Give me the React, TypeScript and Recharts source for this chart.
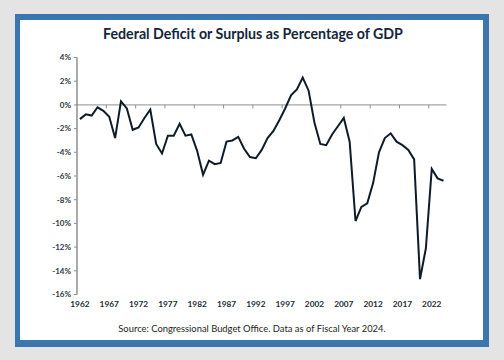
import React from "react";
import { LineChart, Line, XAxis, YAxis, ReferenceLine } from "recharts";

const years: number[] = [
  1962, 1963, 1964, 1965, 1966, 1967, 1968, 1969, 1970, 1971, 1972, 1973, 1974, 1975, 1976, 1977,
  1978, 1979, 1980, 1981, 1982, 1983, 1984, 1985, 1986, 1987, 1988, 1989, 1990, 1991, 1992, 1993,
  1994, 1995, 1996, 1997, 1998, 1999, 2000, 2001, 2002, 2003, 2004, 2005, 2006, 2007, 2008, 2009,
  2010, 2011, 2012, 2013, 2014, 2015, 2016, 2017, 2018, 2019, 2020, 2021, 2022, 2023, 2024,
];

const deficitPct: number[] = [
  -1.2, -0.8, -0.9, -0.2, -0.5, -1.0, -2.8, 0.3, -0.3, -2.1, -1.9, -1.1, -0.4, -3.3, -4.1, -2.6,
  -2.6, -1.6, -2.6, -2.5, -3.9, -5.9, -4.7, -5.0, -4.9, -3.1, -3.0, -2.7, -3.7, -4.4, -4.5, -3.8,
  -2.8, -2.2, -1.3, -0.3, 0.8, 1.3, 2.3, 1.2, -1.5, -3.3, -3.4, -2.5, -1.8, -1.1, -3.1, -9.8,
  -8.6, -8.3, -6.6, -4.0, -2.8, -2.4, -3.1, -3.4, -3.8, -4.6, -14.7, -12.1, -5.4, -6.2, -6.4,
];

const xTickYears: number[] = [1962, 1967, 1972, 1977, 1982, 1987, 1992, 1997, 2002, 2007, 2012, 2017, 2022];
const yTicks: number[] = [-16, -14, -12, -10, -8, -6, -4, -2, 0, 2, 4];

const title = "Federal Deficit or Surplus as Percentage of GDP";
const source = "Source: Congressional Budget Office. Data as of Fiscal Year 2024.";

const data = years.map((year, i) => ({ year, value: deficitPct[i] }));
const zeroTickPositions = xTickYears.slice(1).map((y) => y - 0.5);

const FONT = "Lato, 'Open Sans', sans-serif";

export default function App() {
  return (
    <div
      style={{
        position: "absolute",
        left: 0,
        top: 0,
        width: 504,
        height: 360,
        background: "#e4e4e4",
        fontFamily: FONT,
      }}
    >
      <div
        style={{
          position: "absolute",
          left: 15,
          top: 14,
          width: 474,
          height: 333,
          boxSizing: "border-box",
          borderStyle: "solid",
          borderColor: "#3b76ae",
          borderWidth: "6px 6px 7px 5px",
          background: "#ffffff",
        }}
      />
      <div
        style={{
          position: "absolute",
          left: 0,
          width: 506,
          top: 25,
          textAlign: "center",
          fontSize: 14.2,
          fontWeight: 700,
          color: "#14263a",
          lineHeight: "18px",
        }}
      >
        {title}
      </div>
      <div
        style={{
          position: "absolute",
          left: 0,
          width: 504,
          top: 322,
          textAlign: "center",
          fontSize: 9.4,
          color: "#1e1e1e",
          lineHeight: "14px",
        }}
      >
        {source}
      </div>
      <div style={{ position: "absolute", left: 0, top: 0 }}>
        <LineChart
          width={504}
          height={360}
          data={data}
          margin={{ top: 57.5, right: 57.6, bottom: 45.5, left: 37 }}
        >
          <XAxis
            dataKey="year"
            type="number"
            domain={[1961.5, 2024.5]}
            ticks={xTickYears}
            interval={0}
            axisLine={false}
            tickLine={false}
            tickSize={0}
            tickMargin={7}
            height={20}
            tick={{ fontSize: 8.3, fill: "#1c2b38", fontFamily: FONT, fontWeight: 700 }}
          />
          <YAxis
            type="number"
            domain={[-16, 4]}
            ticks={yTicks}
            interval={0}
            width={40}
            tickFormatter={(v: number) => `${v}%`}
            axisLine={{ stroke: "#8f8f8f", strokeWidth: 1.5 }}
            tickLine={{ stroke: "#8f8f8f" }}
            tickSize={3}
            tickMargin={3}
            tick={{ fontSize: 8, fill: "#2e3740", fontFamily: FONT, fontWeight: 700 }}
          />
          <ReferenceLine y={0} stroke="#8f8f8f" strokeWidth={1} />
          {zeroTickPositions.map((x) => (
            <ReferenceLine
              key={x}
              segment={[
                { x, y: 0 },
                { x, y: -0.3 },
              ]}
              stroke="#8f8f8f"
              strokeWidth={1}
            />
          ))}
          <Line
            type="linear"
            dataKey="value"
            stroke="#0f1c28"
            strokeWidth={2}
            dot={false}
            isAnimationActive={false}
          />
        </LineChart>
      </div>
    </div>
  );
}
